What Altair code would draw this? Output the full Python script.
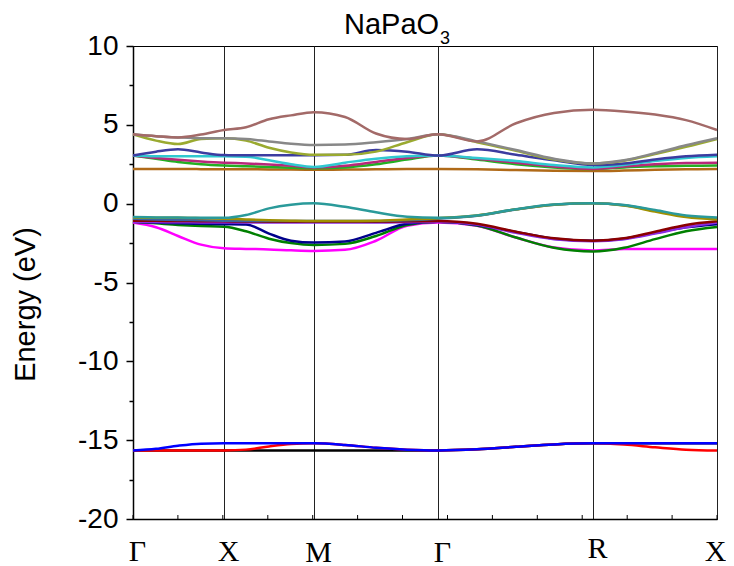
import altair as alt
import pandas as pd

# k-path coordinate (Γ=0 ... X=584)
K = [0, 23, 45, 68, 91, 113, 136, 158, 181, 212, 243, 274, 305, 344, 383, 421, 460, 491, 522, 553, 584]
hs_k = [0, 91, 181, 305, 460, 584]
hs_labels = ["Γ", "X", "M", "Γ", "R", "X"]
minor_k = [0, 44.9, 89.8, 134.8, 179.7, 224.6, 269.5, 314.5, 359.4, 404.3, 449.2, 494.2, 539.1, 584]
y_ticks = [10, 7.5, 5, 2.5, 0, -2.5, -5, -7.5, -10, -12.5, -15, -17.5, -20]

# conduction bands
brown = [4.40, 4.28, 4.20, 4.38, 4.67, 4.85, 5.35, 5.60, 5.80, 5.50, 4.45, 4.10, 4.40, 3.95, 5.10, 5.75, 5.95, 5.85, 5.65, 5.30, 4.67]
gray = [4.40, 4.28, 4.20, 4.15, 4.15, 4.10, 3.95, 3.80, 3.72, 3.75, 3.90, 4.10, 4.40, 3.95, 3.40, 2.85, 2.55, 2.75, 3.20, 3.70, 4.15]
olive_c = [4.40, 4.00, 3.78, 4.10, 4.15, 4.00, 3.55, 3.25, 3.10, 3.10, 3.30, 3.90, 4.40, 3.90, 3.35, 2.80, 2.55, 2.72, 3.15, 3.60, 4.10]
navy_c = [3.05, 3.30, 3.45, 3.25, 3.08, 3.07, 3.07, 3.07, 3.07, 3.10, 3.40, 3.30, 3.05, 3.45, 3.10, 2.75, 2.45, 2.55, 2.80, 3.00, 3.10]
cyan = [3.05, 3.00, 3.00, 3.00, 3.00, 2.98, 2.75, 2.50, 2.33, 2.60, 2.85, 3.00, 3.05, 2.90, 2.70, 2.45, 2.30, 2.45, 2.70, 2.90, 3.00]
violet = [3.05, 2.90, 2.78, 2.68, 2.60, 2.55, 2.48, 2.40, 2.30, 2.40, 2.65, 2.90, 3.05, 2.85, 2.60, 2.35, 2.20, 2.35, 2.50, 2.58, 2.60]
green_c = [3.05, 2.85, 2.65, 2.50, 2.42, 2.38, 2.33, 2.28, 2.25, 2.30, 2.50, 2.80, 3.05, 2.80, 2.50, 2.30, 2.20, 2.30, 2.38, 2.40, 2.42]
orange = [2.20, 2.20, 2.20, 2.19, 2.19, 2.18, 2.17, 2.16, 2.15, 2.16, 2.18, 2.20, 2.20, 2.18, 2.13, 2.09, 2.07, 2.10, 2.15, 2.18, 2.20]

# valence bands
magenta = [-1.20, -1.50, -2.05, -2.60, -2.83, -2.87, -2.90, -2.96, -3.00, -2.93, -2.35, -1.40, -1.20, -1.40, -2.15, -2.78, -2.97, -2.87, -2.87, -2.87, -2.87]
green_v = [-1.15, -1.25, -1.35, -1.42, -1.46, -1.75, -2.22, -2.50, -2.62, -2.55, -2.05, -1.35, -1.15, -1.38, -2.15, -2.80, -3.04, -2.80, -2.25, -1.75, -1.48]
navy_v = [-1.15, -1.20, -1.25, -1.28, -1.30, -1.32, -1.90, -2.35, -2.47, -2.40, -1.85, -1.28, -1.15, -1.35, -1.80, -2.22, -2.35, -2.22, -1.85, -1.50, -1.30]
purple = [-1.15, -1.17, -1.18, -1.19, -1.20, -1.20, -1.20, -1.20, -1.20, -1.20, -1.20, -1.18, -1.15, -1.33, -1.85, -2.25, -2.38, -2.25, -1.90, -1.50, -1.20]
darkred = [-1.08, -1.09, -1.10, -1.11, -1.12, -1.13, -1.14, -1.15, -1.15, -1.15, -1.14, -1.12, -1.10, -1.28, -1.78, -2.20, -2.35, -2.20, -1.78, -1.35, -1.12]
olive_v = [-0.88, -0.90, -0.90, -0.92, -0.95, -1.00, -1.05, -1.08, -1.10, -1.10, -1.08, -1.00, -0.92, -0.75, -0.36, -0.07, 0.02, -0.12, -0.50, -0.85, -1.00]
steel = [-0.95, -1.00, -1.03, -1.05, -1.08, -1.10, -1.10, -1.10, -1.10, -1.10, -1.10, -1.05, -0.95, -0.76, -0.37, -0.07, 0.02, -0.10, -0.45, -0.80, -0.95]
teal = [-0.85, -0.87, -0.88, -0.90, -0.90, -0.72, -0.30, -0.07, 0.02, -0.20, -0.55, -0.83, -0.90, -0.75, -0.35, -0.06, 0.02, -0.08, -0.40, -0.75, -0.87]

# semicore bands
black = [-15.65, -15.65, -15.65, -15.65, -15.65, -15.65, -15.65, -15.65, -15.65, -15.65, -15.65, -15.65, -15.65, -15.58, -15.42, -15.27, -15.20, -15.20, -15.20, -15.20, -15.20]
red = [-15.65, -15.65, -15.65, -15.65, -15.65, -15.60, -15.40, -15.25, -15.20, -15.30, -15.48, -15.60, -15.65, -15.58, -15.42, -15.27, -15.20, -15.28, -15.45, -15.60, -15.65]
blue = [-15.65, -15.55, -15.35, -15.22, -15.20, -15.20, -15.20, -15.20, -15.20, -15.30, -15.48, -15.60, -15.65, -15.58, -15.42, -15.27, -15.20, -15.20, -15.20, -15.20, -15.20]

bands = [
    ("orange", orange, "#b06a18"),
    ("green_c", green_c, "#22b022"),
    ("violet", violet, "#b8287a"),
    ("cyan", cyan, "#30c8d0"),
    ("navy_c", navy_c, "#3c3ca0"),
    ("olive_c", olive_c, "#9aaa30"),
    ("gray", gray, "#888888"),
    ("brown", brown, "#a36a68"),
    ("magenta", magenta, "#ff00ff"),
    ("green_v", green_v, "#008000"),
    ("navy_v", navy_v, "#00008b"),
    ("purple", purple, "#8a2be2"),
    ("darkred", darkred, "#8b0000"),
    ("steel", steel, "#3a62a0"),
    ("olive_v", olive_v, "#a09000"),
    ("teal", teal, "#2a9a9a"),
    ("black", black, "#000000"),
    ("red", red, "#ff0000"),
    ("blue", blue, "#0000ff"),
]

rows = []
for name, vals, _c in bands:
    for k, e in zip(K, vals):
        rows.append({"band": name, "k": k, "E": e})
df = pd.DataFrame(rows)

label_expr = "['Γ','X','M','Γ','R','X'][indexof([0,91,181,305,460,584], datum.value)]"

x_axis = alt.Axis(
    values=hs_k, labelExpr=label_expr, title=None, ticks=False,
    grid=True, gridColor="#222222", gridWidth=1,
    domainColor="black", domainWidth=1.5,
    labelFont="Liberation Serif", labelFontSize=30, labelColor="black",
    labelOffset={"condition": {"test": "datum.value == 584", "value": -2}, "value": 4},
    labelPadding={"condition": [
        {"test": "datum.value == 181", "value": 18},
        {"test": "datum.value == 305", "value": 18},
        {"test": "datum.value == 460", "value": 14},
    ], "value": 17},
    labelOverlap=False, labelFlush=False, labelBound=False,
)
y_axis = alt.Axis(
    values=y_ticks,
    labelExpr="datum.value % 5 == 0 ? toString(datum.value) : ''",
    tickSize={"condition": {"test": "datum.value % 5 != 0", "value": 4}, "value": 7},
    tickColor="black", tickWidth=1.5, grid=False,
    domainColor="black", domainWidth=1.5,
    labelFont="Liberation Sans", labelFontSize=28, labelColor="black", labelPadding=8,
    labelOverlap=False, labelFlush=False,
    title="Energy (eV)", titleFont="Liberation Sans", titleFontSize=29,
    titleFontWeight="normal", titleColor="black", titleAngle=270,
    titleX=-108, titleY=258, titleAlign="center", titleBaseline="middle",
)

x_enc = alt.X("k:Q", scale=alt.Scale(domain=[0, 584], nice=False, zero=False), axis=x_axis)
y_enc = alt.Y("E:Q", scale=alt.Scale(domain=[-20, 10], nice=False, zero=False), axis=y_axis)

layers = []
for name, _v, color in bands:
    layers.append(
        alt.Chart(df).transform_filter(alt.datum.band == name)
        .mark_line(interpolate="monotone", strokeWidth=2.5, color=color)
        .encode(x=x_enc, y=y_enc)
    )

minor = alt.Chart(pd.DataFrame({"k": minor_k})).mark_rule(color="black", strokeWidth=1).encode(
    x=x_enc, y=alt.value(473), y2=alt.value(469)
)

title_main = alt.Chart(pd.DataFrame({"t": ["NaPaO"]})).mark_text(
    align="left", baseline="alphabetic", fontSize=29, font="Liberation Sans", color="black"
).encode(text="t:N", x=alt.value(211), y=alt.value(-12))
title_sub = alt.Chart(pd.DataFrame({"t": ["3"]})).mark_text(
    align="left", baseline="alphabetic", fontSize=18, font="Liberation Sans", color="black"
).encode(text="t:N", x=alt.value(307), y=alt.value(-2))

chart = alt.layer(minor, *layers, title_main, title_sub).properties(
    width=584, height=473,
    autosize=alt.AutoSizeParams(type="none"),
    padding={"left": 125, "top": 38, "right": 9, "bottom": 47},
).configure_view(stroke="black", strokeWidth=1)

chart.save("out.html", embed_options={"renderer": "svg", "actions": False})
